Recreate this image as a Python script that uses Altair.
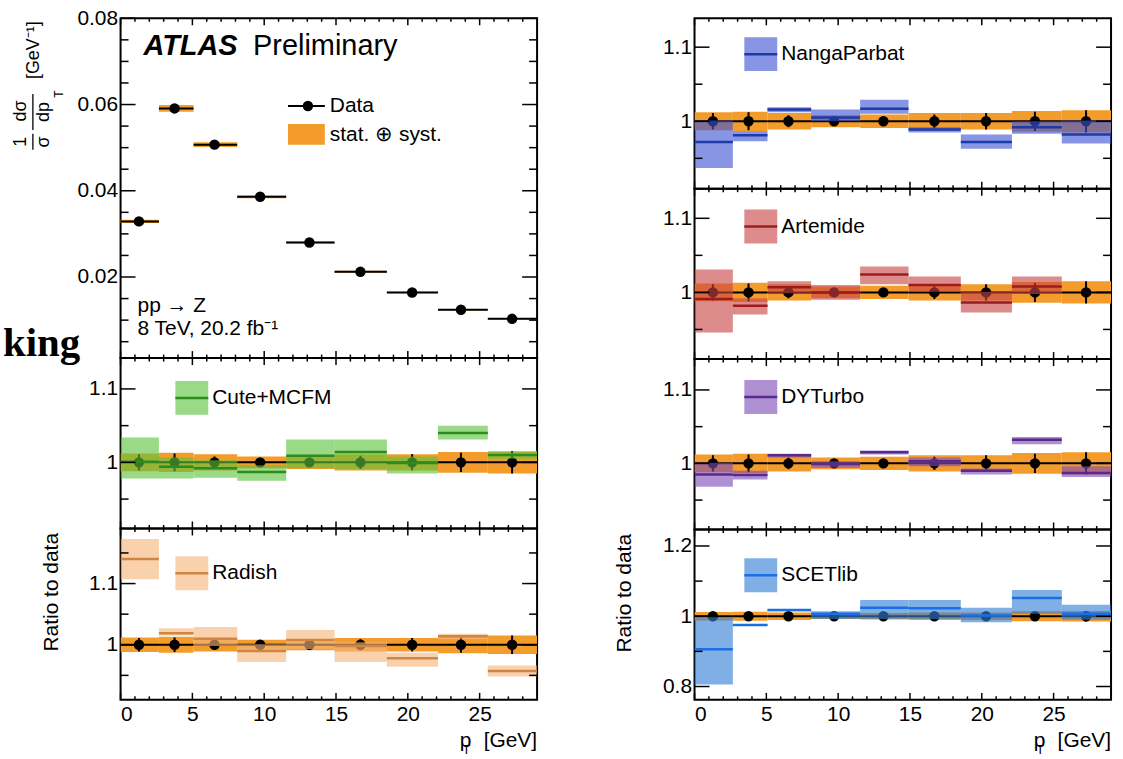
import altair as alt
import pandas as pd

# ---------------- data ----------------
bin_lo = [0.0, 2.67, 5.08, 8.12, 11.53, 14.9, 18.54, 22.1, 25.57]
bin_hi = [2.67, 5.08, 8.12, 11.53, 14.9, 18.54, 22.1, 25.57, 29.0]
pt_center = [1.28, 3.76, 6.54, 9.72, 13.15, 16.7, 20.3, 23.7, 27.26]
xsec = [0.0329, 0.0591, 0.0507, 0.0386, 0.0280, 0.0212, 0.0164, 0.0124, 0.0103]
rel_unc = [0.012, 0.013, 0.011, 0.008, 0.009, 0.011, 0.011, 0.014, 0.015]
data_err = [0.011, 0.012, 0.008, 0.004, 0.006, 0.009, 0.011, 0.013, 0.015]

cute_c = [1.001, 0.994, 0.992, 0.987, 1.009, 1.014, 0.999, 1.040, 1.010]
cute_lo = [0.978, 0.978, 0.979, 0.975, 0.992, 0.991, 0.985, 1.031, 1.005]
cute_hi = [1.034, 1.007, 1.003, 0.996, 1.031, 1.031, 1.008, 1.050, 1.014]

radish_c = [1.140, 1.019, 1.010, 0.990, 1.008, 0.998, 0.978, 1.014, 0.957]
radish_lo = [1.107, 1.015, 0.998, 0.972, 0.993, 0.972, 0.964, 1.009, 0.948]
radish_hi = [1.173, 1.027, 1.029, 1.001, 1.024, 1.004, 0.987, 1.018, 0.966]

nanga_c = [0.972, 0.981, 1.016, 1.005, 1.017, 0.989, 0.972, 0.992, 0.982]
nanga_lo = [0.937, 0.973, 1.012, 1.000, 1.010, 0.985, 0.963, 0.983, 0.970]
nanga_hi = [1.001, 0.987, 1.019, 1.016, 1.029, 0.992, 0.982, 1.000, 1.001]

artemide_c = [0.991, 0.982, 1.007, 1.000, 1.024, 1.010, 0.9865, 1.008, None]
artemide_lo = [0.946, 0.970, 0.999, 0.990, 1.011, 1.001, 0.973, 0.998, None]
artemide_hi = [1.031, 0.992, 1.015, 1.010, 1.035, 1.0215, 1.001, 1.0215, None]

dyturbo_c = [0.985, 0.984, 1.011, 0.999, 1.015, 1.003, 0.990, 1.032, 0.987]
dyturbo_lo = [0.968, 0.978, 1.008, 0.994, 1.012, 0.996, 0.985, 1.026, 0.9815]
dyturbo_hi = [1.001, 0.990, 1.013, 1.003, 1.0175, 1.008, 0.993, 1.036, 0.996]

scet_c = [0.906, 0.975, 1.018, 1.007, 1.024, 1.023, 1.002, 1.052, 1.007]
scet_lo = [0.806, 0.972, 1.014, 0.9925, 0.9925, 0.9925, 0.983, 1.007, 0.990]
scet_hi = [0.997, 0.978, 1.020, 1.014, 1.046, 1.046, 1.024, 1.0745, 1.033]

x_major = [0, 5, 10, 15, 20, 25]
x_minor = [1, 2, 3, 4, 6, 7, 8, 9, 11, 12, 13, 14, 16, 17, 18, 19, 21, 22, 23, 24, 26, 27, 28]
top_major = [0.02, 0.04, 0.06, 0.08]
top_minor = [0.005, 0.01, 0.015, 0.025, 0.03, 0.035, 0.045, 0.05, 0.055, 0.065, 0.07, 0.075]

# ---------------- style ----------------
FONT = "Liberation Sans"
ORANGE = "#f39c2b"
W = 418
xscale = alt.Scale(domain=[0, 29], nice=False, zero=False)


def one():
    return pd.DataFrame({"a": [0]})


def txt(s, x, y, size=21, align="left", baseline="middle", angle=None,
        font=FONT, weight="normal", style="normal"):
    kw = dict(align=align, baseline=baseline, fontSize=size, font=font,
              fontWeight=weight, fontStyle=style, color="black")
    if angle is not None:
        kw["angle"] = angle
    return alt.Chart(pd.DataFrame({"t": [s]})).mark_text(**kw).encode(
        x=alt.value(x), y=alt.value(y), text="t:N")


def box(x0, x1, y0, y1, color, opacity=1.0):
    return alt.Chart(one()).mark_rect(color=color, opacity=opacity).encode(
        x=alt.value(x0), x2=alt.value(x1), y=alt.value(y0), y2=alt.value(y1))


def hrule_px(x0, x1, y, color, width):
    return alt.Chart(one()).mark_rule(color=color, strokeWidth=width).encode(
        x=alt.value(x0), x2=alt.value(x1), y=alt.value(y))


def vrule_px(x, y0, y1, color="black", width=1.5):
    return alt.Chart(one()).mark_rule(color=color, strokeWidth=width).encode(
        x=alt.value(x), y=alt.value(y0), y2=alt.value(y1))


def anchor(x, y):
    # invisible layout anchor (keeps both columns aligned)
    return alt.Chart(one()).mark_rule(strokeOpacity=0, strokeWidth=1).encode(
        x=alt.value(x), x2=alt.value(x + 1), y=alt.value(y))


def tick_layers(H, yscale, ymaj, ymin, xaxis, yaxis):
    layers = []
    for vals, L in [(x_major, 7), (x_minor, 3.5)]:
        d = pd.DataFrame({"v": vals})
        xe = alt.X("v:Q", scale=xscale, axis=xaxis)
        layers.append(alt.Chart(d).mark_rule(color="black", strokeWidth=1.5).encode(
            x=xe, y=alt.value(H), y2=alt.value(H - L)))
        layers.append(alt.Chart(d).mark_rule(color="black", strokeWidth=1.5).encode(
            x=xe, y=alt.value(0), y2=alt.value(L)))
    for vals, L in [(ymaj, 15), (ymin, 8)]:
        d = pd.DataFrame({"v": vals})
        ye = alt.Y("v:Q", scale=yscale, axis=yaxis)
        layers.append(alt.Chart(d).mark_rule(color="black", strokeWidth=1.5).encode(
            y=ye, x=alt.value(0), x2=alt.value(L)))
        layers.append(alt.Chart(d).mark_rule(color="black", strokeWidth=1.5).encode(
            y=ye, x=alt.value(W), x2=alt.value(W - L)))
    return layers


def make_xaxis(bottom):
    if not bottom:
        return None
    return alt.Axis(values=x_major, format="d", title=None, labelPadding=4,
                    labelFontSize=21)


def xtitle_layers(H):
    return [
        txt("[GeV]", W, H + 47, align="right", baseline="alphabetic"),
        txt("p", 352, H + 47, align="right", baseline="alphabetic"),
        txt("T", 347, H + 54, size=13, align="center", baseline="alphabetic"),
    ]


def ratio_panel(name, mc, mlo, mhi, band_color, line_color, ydom, H, ymaj, ymin,
                leg_y, leg_x0, bottom=False, extra=None):
    yscale = alt.Scale(domain=ydom, nice=False, zero=False)
    xaxis = make_xaxis(bottom)
    yaxis = alt.Axis(values=ymaj, format="~g", title=None, labelPadding=3,
                     labelFontSize=21)
    df = pd.DataFrame({
        "lo": bin_lo, "hi": bin_hi, "c": pt_center, "one": [1.0] * 9,
        "blo": [1 - u for u in rel_unc], "bhi": [1 + u for u in rel_unc],
        "elo": [1 - e for e in data_err], "ehi": [1 + e for e in data_err],
    })
    dm = pd.DataFrame({"lo": bin_lo, "hi": bin_hi, "m": mc, "mlo": mlo, "mhi": mhi}).dropna()

    def X(f):
        return alt.X(f"{f}:Q", scale=xscale, axis=xaxis)

    def Y(f):
        return alt.Y(f"{f}:Q", scale=yscale, axis=yaxis)

    band = alt.Chart(df).mark_rect(color=ORANGE, clip=True).encode(
        x=X("lo"), x2="hi", y=Y("blo"), y2="bhi")
    dline = alt.Chart(df).mark_rule(color="black", strokeWidth=2, clip=True).encode(
        x=X("lo"), x2="hi", y=Y("one"))
    derr = alt.Chart(df).mark_rule(color="black", strokeWidth=2, clip=True).encode(
        x=X("c"), y=Y("elo"), y2="ehi")
    pts = alt.Chart(df).mark_circle(color="black", size=110, opacity=1, clip=True).encode(
        x=X("c"), y=Y("one"))
    mband = alt.Chart(dm).mark_rect(color=band_color, opacity=0.62, clip=True).encode(
        x=X("lo"), x2="hi", y=Y("mlo"), y2="mhi")
    mline = alt.Chart(dm).mark_rule(color=line_color, strokeWidth=2.5, clip=True).encode(
        x=X("lo"), x2="hi", y=Y("m"))
    legend = [
        box(leg_x0, leg_x0 + 33, leg_y - 17, leg_y + 17, band_color, 0.62),
        hrule_px(leg_x0, leg_x0 + 33, leg_y, line_color, 2.5),
        txt(name, leg_x0 + 37, leg_y),
    ]
    layers = [band, dline, derr, pts, mband, mline] + tick_layers(H, yscale, ymaj, ymin, xaxis, yaxis) + legend
    if extra:
        layers += extra
    return alt.layer(*layers).properties(width=W, height=H)


# ---------------- top-left cross-section panel ----------------
H_TOP = 341
ytop = alt.Scale(domain=[0.0012, 0.08], nice=False, zero=False)
top_yaxis = alt.Axis(values=top_major, format=".2f", title=None, labelPadding=3,
                     labelFontSize=21)
dtop = pd.DataFrame({
    "lo": bin_lo, "hi": bin_hi, "c": pt_center, "v": xsec,
    "blo": [v * (1 - u) for v, u in zip(xsec, rel_unc)],
    "bhi": [v * (1 + u) for v, u in zip(xsec, rel_unc)],
    "elo": [v * (1 - e) for v, e in zip(xsec, data_err)],
    "ehi": [v * (1 + e) for v, e in zip(xsec, data_err)],
})


def XT(f):
    return alt.X(f"{f}:Q", scale=xscale, axis=None)


def YT(f):
    return alt.Y(f"{f}:Q", scale=ytop, axis=top_yaxis)


top_layers = [
    alt.Chart(dtop).mark_rect(color=ORANGE).encode(x=XT("lo"), x2="hi", y=YT("blo"), y2="bhi"),
    alt.Chart(dtop).mark_rule(color="black", strokeWidth=2).encode(x=XT("lo"), x2="hi", y=YT("v")),
    alt.Chart(dtop).mark_rule(color="black", strokeWidth=2).encode(x=XT("c"), y=YT("elo"), y2="ehi"),
    alt.Chart(dtop).mark_circle(color="black", size=110, opacity=1).encode(x=XT("c"), y=YT("v")),
] + tick_layers(H_TOP, ytop, top_major, top_minor, None, top_yaxis) + [
    # ATLAS label
    txt("ATLAS", 23, 28, size=29, weight="bold", style="italic"),
    txt("Preliminary", 133, 28, size=29),
    # legend
    hrule_px(168, 205, 88, "black", 2),
    alt.Chart(one()).mark_circle(color="black", size=110, opacity=1).encode(
        x=alt.value(188), y=alt.value(88)),
    txt("Data", 210, 88),
    box(168, 205, 106, 127, ORANGE),
    txt("stat. \u2295 syst.", 210, 117),
    # process text
    txt("pp \u2192 Z", 17, 289),
    txt("8 TeV, 20.2 fb\u207b\u00b9", 17, 312),
    # y title pieces (rotated fractions)
    txt("[GeV\u207b\u00b9]", -87, 32, size=18, align="center", angle=270),
    txt("d\u03c3", -100, 93, size=18, align="center", angle=270),
    vrule_px(-88, 76, 112, "black", 1.3),
    txt("dp", -77, 94, size=18, align="center", angle=270),
    txt("T", -62, 76, size=12, align="center", angle=270),
    txt("1", -100, 124, size=18, align="center", angle=270),
    vrule_px(-88, 116, 132, "black", 1.3),
    txt("\u03c3", -77, 124, size=18, align="center", angle=270),
    # stray slide text at the far left
    txt("king", -118, 339, size=41, baseline="alphabetic", font="Liberation Serif",
        weight="bold"),
    anchor(W + 20, -12),
]
top_panel = alt.layer(*top_layers).properties(width=W, height=H_TOP)

# ---------------- ratio panels ----------------
dom_std = [0.91, 1.142]
p_cute = ratio_panel("Cute+MCFM", cute_c, cute_lo, cute_hi, "#5cc43c", "#2e8b1e",
                     dom_std, 171, [1.0, 1.1], [0.95, 1.05], 40, 55)
p_radish = ratio_panel("Radish", radish_c, radish_lo, radish_hi, "#f5b47a", "#cf8544",
                       [0.91, 1.19], 172, [1.0, 1.1], [0.95, 1.05, 1.15], 45, 55,
                       bottom=True,
                       extra=xtitle_layers(172) + [txt("Ratio to data", -69, 64, align="center", angle=270)])
p_nanga = ratio_panel("NangaParbat", nanga_c, nanga_lo, nanga_hi, "#3e54d4", "#1c3aa8",
                      [0.909, 1.139], 171, [1.0, 1.1], [0.95, 1.05], 36, 50,
                      extra=[anchor(-101, -12)])
p_art = ratio_panel("Artemide", artemide_c, artemide_lo, artemide_hi, "#c94444", "#9b1c1c",
                    [0.91, 1.14], 171, [1.0, 1.1], [0.95, 1.05], 38, 50)
p_dyt = ratio_panel("DYTurbo", dyturbo_c, dyturbo_lo, dyturbo_hi, "#7e4cb8", "#5a2a8a",
                    dom_std, 171, [1.0, 1.1], [0.95, 1.05], 38, 50)
p_scet = ratio_panel("SCETlib", scet_c, scet_lo, scet_hi, "#307ed4", "#1a6fe8",
                     [0.762, 1.247], 171, [0.8, 1.0, 1.2], [0.9, 1.1], 46, 50,
                     bottom=True,
                     extra=xtitle_layers(171) + [txt("Ratio to data", -70, 64, align="center", angle=270)])

left = alt.vconcat(top_panel, p_cute, p_radish, spacing=0, bounds="flush")
right = alt.vconcat(p_nanga, p_art, p_dyt, p_scet, spacing=0, bounds="flush")

chart = alt.hconcat(left, right, spacing=34).properties(
    padding={"left": 2, "top": 4, "right": 10, "bottom": 0},
    background="white",
).configure_view(
    stroke="black", strokeWidth=2
).configure_axis(
    labelFont=FONT, labelColor="black", ticks=False, domain=False, grid=False,
    labelFontSize=21
).configure_text(font=FONT)

chart.save("out.html", embed_options={"renderer": "svg", "actions": False})
